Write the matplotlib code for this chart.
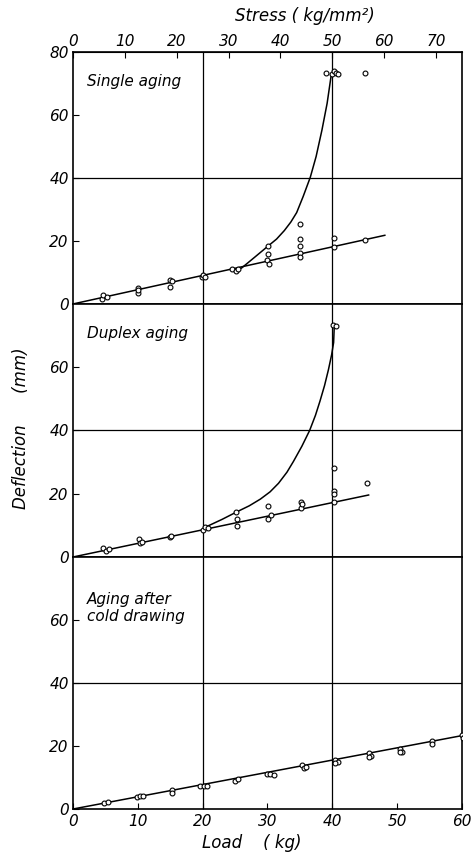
import numpy as np
import matplotlib
matplotlib.use("Agg")
import matplotlib.pyplot as plt

# ---- data ----
# Single aging
single_load = [4.4, 4.7, 5.2, 10, 10, 10, 15, 15.2, 15, 19.9, 20.1, 20.4, 24.6, 25.2, 25.5,
               30.1, 30.1, 30, 30.3, 35, 35, 35, 35, 35, 40.2, 40.2, 45.1,
               39, 39.9, 40.2, 40.5, 40.8, 45]
single_defl = [1.6, 2.9, 2.2, 5.2, 3.6, 4.4, 7.6, 7.4, 5.5, 8.5, 9.2, 8.7, 11, 10.5, 11.2,
               18.4, 16, 14, 12.7, 25.3, 20.6, 18.5, 16.3, 15.0, 21, 18.2, 20.3,
               73.2, 72.9, 73.8, 73.2, 73.0, 73.2]
single_line_load = [0, 48.1]
single_line_defl = [0, 21.8]
single_curve_load = [26.0, 28.0, 30.1, 31.4, 32.6, 33.6, 34.5, 35.5, 36.6, 37.5, 38.4, 39.2, 39.8]
single_curve_defl = [11.4, 14.8, 18.4, 20.6, 23.3, 26.0, 29.0, 34.1, 40.2, 46.8, 55.2, 63.7, 72.2]

# Duplex aging
duplex_load = [4.6, 5.1, 5.5, 10.2, 10.3, 10.6, 15, 15.1, 20, 20.3, 20.8, 25.2, 25.3, 25.3,
               30.1, 30.1, 30.5, 35.1, 35.1, 35.4, 40.3, 40.3, 40.3, 40.3, 45.3, 40.1, 40.6]
duplex_defl = [2.7, 2.0, 2.5, 5.6, 4.5, 4.8, 6.2, 6.6, 8.5, 9.6, 9.2, 14.1, 12.0, 9.9,
               16.1, 11.9, 13.3, 17.4, 15.4, 16.8, 28.1, 21.0, 19.8, 17.5, 23.3, 73.4, 72.9]
duplex_line_load = [0, 45.6]
duplex_line_defl = [0, 19.6]
duplex_curve_load = [20.6, 23.0, 25.3, 27.2, 28.9, 30.4, 31.7, 33.0, 34.0, 35.3, 36.5,
                     37.4, 38.1, 38.8, 39.4, 39.9, 40.2, 40.3]
duplex_curve_defl = [9.6, 11.9, 14.3, 16.2, 18.3, 20.6, 23.3, 26.8, 30.2, 35.0, 40.0,
                     44.8, 49.3, 54.2, 59.2, 64.0, 67.8, 72.9]

# Aging after cold drawing
cold_load = [4.8, 5.4, 9.8, 10.3, 10.8, 15.3, 15.3, 19.6, 20.2, 20.7, 25, 25.5,
             29.9, 30.4, 31, 35.3, 35.6, 35.9, 40.4, 40.8, 40.4, 45.6, 45.9, 45.6,
             50.5, 50.8, 50.5, 55.4, 55.4, 60, 60.4, 60.1]
cold_defl = [1.8, 2.3, 3.8, 4.2, 4.2, 6.0, 5.2, 7.4, 7.4, 7.4, 9.0, 9.4,
             11.0, 11.0, 10.8, 14.0, 13.0, 13.4, 15.6, 15.0, 14.7, 17.7, 16.8, 16.6,
             19.0, 18.2, 18.2, 21.6, 20.6, 23.5, 23.2, 22.5]
cold_line_load = [0, 60]
cold_line_defl = [0, 23.3]

panel_titles = ["Single aging", "Duplex aging", "Aging after\ncold drawing"]
load_ticks = [0, 10, 20, 30, 40, 50, 60]
stress_ticks = [0, 10, 20, 30, 40, 50, 60, 70]

plt.rcParams['font.family'] = ['DejaVu Sans']

fig = plt.figure(figsize=(4.73, 8.56), dpi=100)
left, width = 0.1543, 0.8224
bottoms = [0.6449, 0.3493, 0.0549]
heights = [0.2944, 0.2956, 0.2944]

panels = [
    (single_load, single_defl, single_line_load, single_line_defl, single_curve_load, single_curve_defl),
    (duplex_load, duplex_defl, duplex_line_load, duplex_line_defl, duplex_curve_load, duplex_curve_defl),
    (cold_load, cold_defl, cold_line_load, cold_line_defl, None, None),
]

axes = []
for i, (pl, pd, ll, ld, cl, cd) in enumerate(panels):
    ax = fig.add_axes([left, bottoms[i], width, heights[i]])
    axes.append(ax)
    ax.set_xlim(0, 60)
    ax.set_ylim(0, 80)
    for v in (20, 40):
        ax.axvline(v, color='black', lw=0.9, zorder=1)
    ax.axhline(40, color='black', lw=0.9, zorder=1)
    ax.plot(ll, ld, color='black', lw=1.1, zorder=2)
    if cl is not None:
        ax.plot(cl, cd, color='black', lw=1.1, zorder=2)
    ax.plot(pl, pd, 'o', mfc='white', mec='black', ms=3.5, mew=0.8, zorder=3)
    ax.text(2.2, 73 if i < 2 else 69, panel_titles[i], fontsize=11, style='italic',
            va='top', ha='left')
    yt = [0, 20, 40, 60, 80] if i == 0 else [0, 20, 40, 60]
    ax.set_yticks(yt, labels=[str(t) for t in yt], fontstyle='italic')
    ax.set_xticks(load_ticks, labels=[str(t) for t in load_ticks], fontstyle='italic')
    ax.tick_params(axis='y', direction='in', length=4, labelsize=11, pad=3)
    ax.tick_params(axis='x', direction='in', length=4, labelsize=11)
    if i < 2:
        ax.tick_params(axis='x', labelbottom=False, length=0)
    for s in ax.spines.values():
        s.set_linewidth(1.2)

top = axes[0].secondary_xaxis('top', functions=(lambda x: x * 1.25, lambda s: s / 1.25))
top.set_xticks(stress_ticks, labels=[str(t) for t in stress_ticks], fontstyle='italic')
top.tick_params(direction='in', length=4, labelsize=11, pad=2)

fig.text(305 / 473, 1 - 16 / 856, "Stress ( kg/mm²)", fontsize=12, style='italic',
         ha='center', va='center')
fig.text(252 / 473, 1 - 843 / 856, "Load    ( kg)", fontsize=12, style='italic',
         ha='center', va='center')
fig.text(0.045, 0.50, "Deflection      (mm)", rotation=90, fontsize=12, style='italic',
         va='center', ha='center')

fig.savefig("out.png", dpi=100)
